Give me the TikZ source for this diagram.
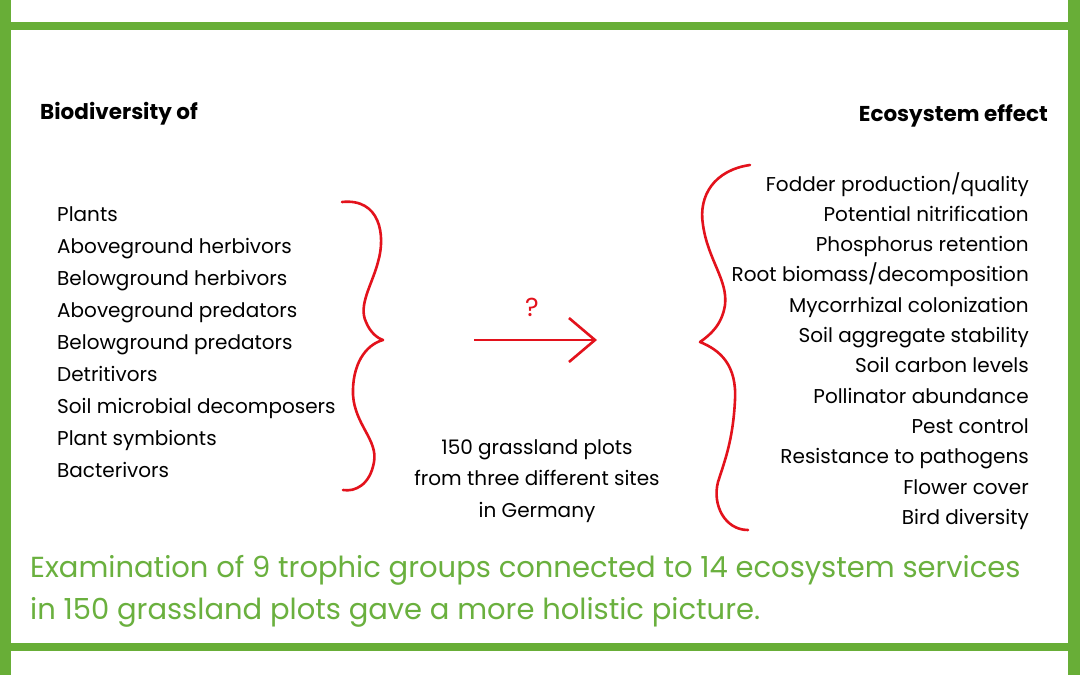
\documentclass[tikz,border=0pt]{standalone}
\usepackage{fontspec}
\setmainfont{Poppins}
\usetikzlibrary{arrows.meta}
\definecolor{framegreen}{HTML}{68AE37}
\definecolor{textgreen}{HTML}{6AB03E}
\definecolor{penred}{HTML}{E3121C}

\begin{document}
\begin{tikzpicture}[x=1pt, y=-1pt,
    item/.style={inner sep=0pt, font=\fontsize{20}{32}\selectfont},
    head/.style={inner sep=0pt, font=\fontsize{21.5}{24}\selectfont\bfseries},
    brace/.style={penred, line width=2.6pt, line cap=round, line join=round}]
    % Rahmen
    \useasboundingbox (0,0) rectangle (1080,675);
    \fill[white] (0,0) rectangle (1080,675);
    \fill[framegreen] (0,0) rectangle (11,675);
    \fill[framegreen] (1068,0) rectangle (1080,675);
    \fill[framegreen] (0,22) rectangle (1080,30);
    \fill[framegreen] (0,643) rectangle (1080,651);

    % Kopfzeilen
    \node[head, anchor=base west] (bioHead) at (40,119) {Biodiversity of};
    \node[head, anchor=base east] (ecoHead) at (1048,121) {Ecosystem effect};

    % Trophische Gruppen
    \node[item, anchor=north west, align=left] (groups) at (57,206) {Plants\\Aboveground herbivors\\Belowground herbivors\\Aboveground predators\\Belowground predators\\Detritivors\\Soil microbial decomposers\\Plant symbionts\\Bacterivors};

    % Oekosystemleistungen
    \node[item, anchor=north east, align=right, font=\fontsize{20}{30.3}\selectfont] (services) at (1029,172) {Fodder production/quality\\Potential nitrification\\Phosphorus retention\\Root biomass/decomposition\\Mycorrhizal colonization\\Soil aggregate stability\\Soil carbon levels\\Pollinator abundance\\Pest control\\Resistance to pathogens\\Flower cover\\Bird diversity};

    % Klammern
    \draw[brace] (342,202) .. controls (380,198) and (386,235) .. (378,262)
        .. controls (372,285) and (358,305) .. (366,322)
        .. controls (370,332) and (377,338) .. (383,340)
        .. controls (365,345) and (352,365) .. (353,395)
        .. controls (355,425) and (378,440) .. (374,462)
        .. controls (370,485) and (355,492) .. (343,490);
    \draw[brace] (750,165) .. controls (715,170) and (698,195) .. (703,225)
        .. controls (708,260) and (728,280) .. (725,305)
        .. controls (722,325) and (710,335) .. (700,342)
        .. controls (720,350) and (737,365) .. (735,400)
        .. controls (733,440) and (725,460) .. (718,482)
        .. controls (712,505) and (725,530) .. (748,530);

    % Pfeil
    \coordinate (arrFrom) at (474,340);
    \coordinate (arrTo) at (597,340);
    \draw[penred, line width=2.6pt, -{Straight Barb[length=26pt, width=44pt, line width=2.6pt]}] (arrFrom) -- (arrTo);
    \node[item, penred, font=\fontsize{26}{28}\selectfont] (query) at (532,307) {?};

    % Versuchsflaechen
    \node[item, anchor=north, align=center, font=\fontsize{20}{31.5}\selectfont] (plots) at (537,439) {150 grassland plots\\from three different sites\\in Germany};

    % Fazit
    \node[item, anchor=base west, align=left, textgreen, font=\fontsize{29}{42}\selectfont] (summary) at (30,619) {Examination of 9 trophic groups connected to 14 ecosystem services\\in 150 grassland plots gave a more holistic picture.};
\end{tikzpicture}
\end{document}
